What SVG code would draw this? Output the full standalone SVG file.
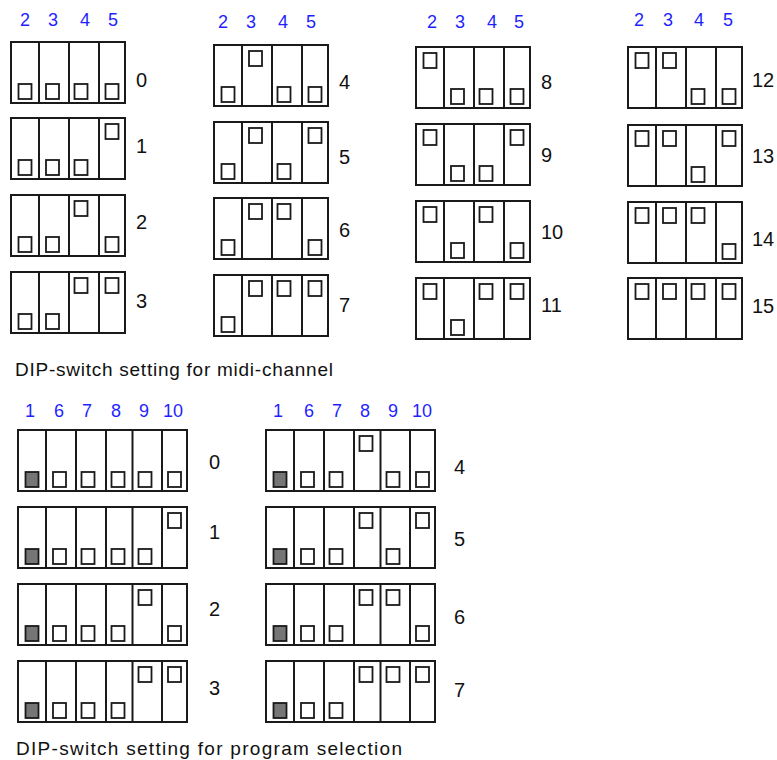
<svg xmlns="http://www.w3.org/2000/svg" xmlns:xlink="http://www.w3.org/1999/xlink" width="777" height="760" viewBox="0 0 777 760">
<style>
.fr{fill:#fff;stroke:#1a1a1a;stroke-width:2}
.ln{fill:none;stroke:#1a1a1a;stroke-width:2}
.sq{fill:#fff;stroke:#1a1a1a;stroke-width:1.8}
.sqg{fill:#767676;stroke:#1a1a1a;stroke-width:1.8}
.num{font-family:"Liberation Sans",Arial,sans-serif;font-size:20px;fill:#111}
.hdr{font-family:"Liberation Sans",Arial,sans-serif;font-size:18px;fill:#1f1fff;text-anchor:middle}
.cap{font-family:"Liberation Sans",Arial,sans-serif;font-size:19px;fill:#111}
</style>
<defs>
<g id="f4"><rect x="1" y="1" width="114" height="61" class="fr"/><path d="M29 1V62M59 1V62M89 1V62" class="ln"/></g>
<g id="f6"><rect x="1" y="1" width="169" height="61" class="fr"/><path d="M29 1V62M59 1V62M89 1V62M115.5 1V62M145 1V62" class="ln"/></g>
<rect id="s" width="13" height="15" class="sq"/>
<rect id="g" width="13" height="15" class="sqg"/>
</defs>

<g id="headers">
<text class="hdr" x="25" y="25.5">2</text><text class="hdr" x="53" y="25.5">3</text><text class="hdr" x="85" y="25.5">4</text><text class="hdr" x="113" y="25.5">5</text>
<text class="hdr" x="223" y="28">2</text><text class="hdr" x="251" y="28">3</text><text class="hdr" x="283" y="28">4</text><text class="hdr" x="311" y="28">5</text>
<text class="hdr" x="432" y="28">2</text><text class="hdr" x="460" y="28">3</text><text class="hdr" x="492" y="28">4</text><text class="hdr" x="519" y="28">5</text>
<text class="hdr" x="639" y="26">2</text><text class="hdr" x="668" y="26">3</text><text class="hdr" x="699" y="26">4</text><text class="hdr" x="728" y="26">5</text>
<text class="hdr" x="30" y="417">1</text><text class="hdr" x="59" y="417">6</text><text class="hdr" x="87" y="417">7</text><text class="hdr" x="116" y="417">8</text><text class="hdr" x="144" y="417">9</text><text class="hdr" x="173" y="417">10</text>
<text class="hdr" x="278" y="417">1</text><text class="hdr" x="309" y="417">6</text><text class="hdr" x="337" y="417">7</text><text class="hdr" x="365" y="417">8</text><text class="hdr" x="393" y="417">9</text><text class="hdr" x="422" y="417">10</text>
</g>

<!-- midi channel blocks -->
<g id="m0" transform="translate(10,41)"><use href="#f4"/><use href="#s" x="8.5" y="43"/><use href="#s" x="36" y="43"/><use href="#s" x="64.5" y="43"/><use href="#s" x="95.5" y="43"/></g>
<g id="m1" transform="translate(10,117)"><use href="#f4"/><use href="#s" x="8.5" y="43"/><use href="#s" x="36" y="43"/><use href="#s" x="64.5" y="43"/><use href="#s" x="95.5" y="7"/></g>
<g id="m2" transform="translate(10,194)"><use href="#f4"/><use href="#s" x="8.5" y="43"/><use href="#s" x="36" y="43"/><use href="#s" x="64.5" y="7"/><use href="#s" x="95.5" y="43"/></g>
<g id="m3" transform="translate(10,271)"><use href="#f4"/><use href="#s" x="8.5" y="43"/><use href="#s" x="36" y="43"/><use href="#s" x="64.5" y="7"/><use href="#s" x="95.5" y="7"/></g>

<g id="m4" transform="translate(213,44)"><use href="#f4"/><use href="#s" x="8.5" y="43"/><use href="#s" x="36" y="7"/><use href="#s" x="64.5" y="43"/><use href="#s" x="95.5" y="43"/></g>
<g id="m5" transform="translate(213,121)"><use href="#f4"/><use href="#s" x="8.5" y="43"/><use href="#s" x="36" y="7"/><use href="#s" x="64.5" y="43"/><use href="#s" x="95.5" y="7"/></g>
<g id="m6" transform="translate(213,197)"><use href="#f4"/><use href="#s" x="8.5" y="43"/><use href="#s" x="36" y="7"/><use href="#s" x="64.5" y="7"/><use href="#s" x="95.5" y="43"/></g>
<g id="m7" transform="translate(213,274)"><use href="#f4"/><use href="#s" x="8.5" y="43"/><use href="#s" x="36" y="7"/><use href="#s" x="64.5" y="7"/><use href="#s" x="95.5" y="7"/></g>

<g id="m8" transform="translate(415,46)"><use href="#f4"/><use href="#s" x="8.5" y="7"/><use href="#s" x="36" y="43"/><use href="#s" x="64.5" y="43"/><use href="#s" x="95.5" y="43"/></g>
<g id="m9" transform="translate(415,123)"><use href="#f4"/><use href="#s" x="8.5" y="7"/><use href="#s" x="36" y="43"/><use href="#s" x="64.5" y="43"/><use href="#s" x="95.5" y="7"/></g>
<g id="m10" transform="translate(415,200)"><use href="#f4"/><use href="#s" x="8.5" y="7"/><use href="#s" x="36" y="43"/><use href="#s" x="64.5" y="7"/><use href="#s" x="95.5" y="43"/></g>
<g id="m11" transform="translate(415,277)"><use href="#f4"/><use href="#s" x="8.5" y="7"/><use href="#s" x="36" y="43"/><use href="#s" x="64.5" y="7"/><use href="#s" x="95.5" y="7"/></g>

<g id="m12" transform="translate(627,46)"><use href="#f4"/><use href="#s" x="8.5" y="7"/><use href="#s" x="36" y="7"/><use href="#s" x="64.5" y="43"/><use href="#s" x="95.5" y="43"/></g>
<g id="m13" transform="translate(627,124)"><use href="#f4"/><use href="#s" x="8.5" y="7"/><use href="#s" x="36" y="7"/><use href="#s" x="64.5" y="43"/><use href="#s" x="95.5" y="7"/></g>
<g id="m14" transform="translate(627,201)"><use href="#f4"/><use href="#s" x="8.5" y="7"/><use href="#s" x="36" y="7"/><use href="#s" x="64.5" y="7"/><use href="#s" x="95.5" y="43"/></g>
<g id="m15" transform="translate(627,277)"><use href="#f4"/><use href="#s" x="8.5" y="7"/><use href="#s" x="36" y="7"/><use href="#s" x="64.5" y="7"/><use href="#s" x="95.5" y="7"/></g>

<g id="mlabels">
<text class="num" x="136" y="87">0</text><text class="num" x="136" y="153">1</text><text class="num" x="136" y="229">2</text><text class="num" x="136" y="308">3</text>
<text class="num" x="339" y="89">4</text><text class="num" x="339" y="164">5</text><text class="num" x="339" y="237">6</text><text class="num" x="339" y="312">7</text>
<text class="num" x="541" y="89">8</text><text class="num" x="541" y="162">9</text><text class="num" x="541" y="239">10</text><text class="num" x="541" y="312">11</text>
<text class="num" x="752" y="87">12</text><text class="num" x="752" y="163">13</text><text class="num" x="752" y="246">14</text><text class="num" x="752" y="313">15</text>
</g>

<text id="cap1" class="cap" x="15" y="376" textLength="318" lengthAdjust="spacing">DIP-switch setting for midi-channel</text>

<!-- program selection blocks -->
<g id="p0" transform="translate(17,429)"><use href="#f6"/><use href="#g" x="8.5" y="43"/><use href="#s" x="36" y="43"/><use href="#s" x="64.5" y="43"/><use href="#s" x="94.5" y="43"/><use href="#s" x="121.5" y="43"/><use href="#s" x="151" y="43"/></g>
<g id="p1" transform="translate(17,506)"><use href="#f6"/><use href="#g" x="8.5" y="43"/><use href="#s" x="36" y="43"/><use href="#s" x="64.5" y="43"/><use href="#s" x="94.5" y="43"/><use href="#s" x="121.5" y="43"/><use href="#s" x="151" y="7"/></g>
<g id="p2" transform="translate(17,583)"><use href="#f6"/><use href="#g" x="8.5" y="43"/><use href="#s" x="36" y="43"/><use href="#s" x="64.5" y="43"/><use href="#s" x="94.5" y="43"/><use href="#s" x="121.5" y="7"/><use href="#s" x="151" y="43"/></g>
<g id="p3" transform="translate(17,660)"><use href="#f6"/><use href="#g" x="8.5" y="43"/><use href="#s" x="36" y="43"/><use href="#s" x="64.5" y="43"/><use href="#s" x="94.5" y="43"/><use href="#s" x="121.5" y="7"/><use href="#s" x="151" y="7"/></g>

<g id="p4" transform="translate(265,429)"><use href="#f6"/><use href="#g" x="8.5" y="43"/><use href="#s" x="36" y="43"/><use href="#s" x="64.5" y="43"/><use href="#s" x="94.5" y="7"/><use href="#s" x="121.5" y="43"/><use href="#s" x="151" y="43"/></g>
<g id="p5" transform="translate(265,506)"><use href="#f6"/><use href="#g" x="8.5" y="43"/><use href="#s" x="36" y="43"/><use href="#s" x="64.5" y="43"/><use href="#s" x="94.5" y="7"/><use href="#s" x="121.5" y="43"/><use href="#s" x="151" y="7"/></g>
<g id="p6" transform="translate(265,583)"><use href="#f6"/><use href="#g" x="8.5" y="43"/><use href="#s" x="36" y="43"/><use href="#s" x="64.5" y="43"/><use href="#s" x="94.5" y="7"/><use href="#s" x="121.5" y="7"/><use href="#s" x="151" y="43"/></g>
<g id="p7" transform="translate(265,660)"><use href="#f6"/><use href="#g" x="8.5" y="43"/><use href="#s" x="36" y="43"/><use href="#s" x="64.5" y="43"/><use href="#s" x="94.5" y="7"/><use href="#s" x="121.5" y="7"/><use href="#s" x="151" y="7"/></g>

<g id="plabels">
<text class="num" x="209" y="469">0</text><text class="num" x="209" y="539">1</text><text class="num" x="209" y="616">2</text><text class="num" x="209" y="695">3</text>
<text class="num" x="454" y="474">4</text><text class="num" x="454" y="546">5</text><text class="num" x="454" y="624">6</text><text class="num" x="454" y="697">7</text>
</g>

<text id="cap2" class="cap" x="16" y="755" textLength="386" lengthAdjust="spacing">DIP-switch setting for program selection</text>
</svg>
